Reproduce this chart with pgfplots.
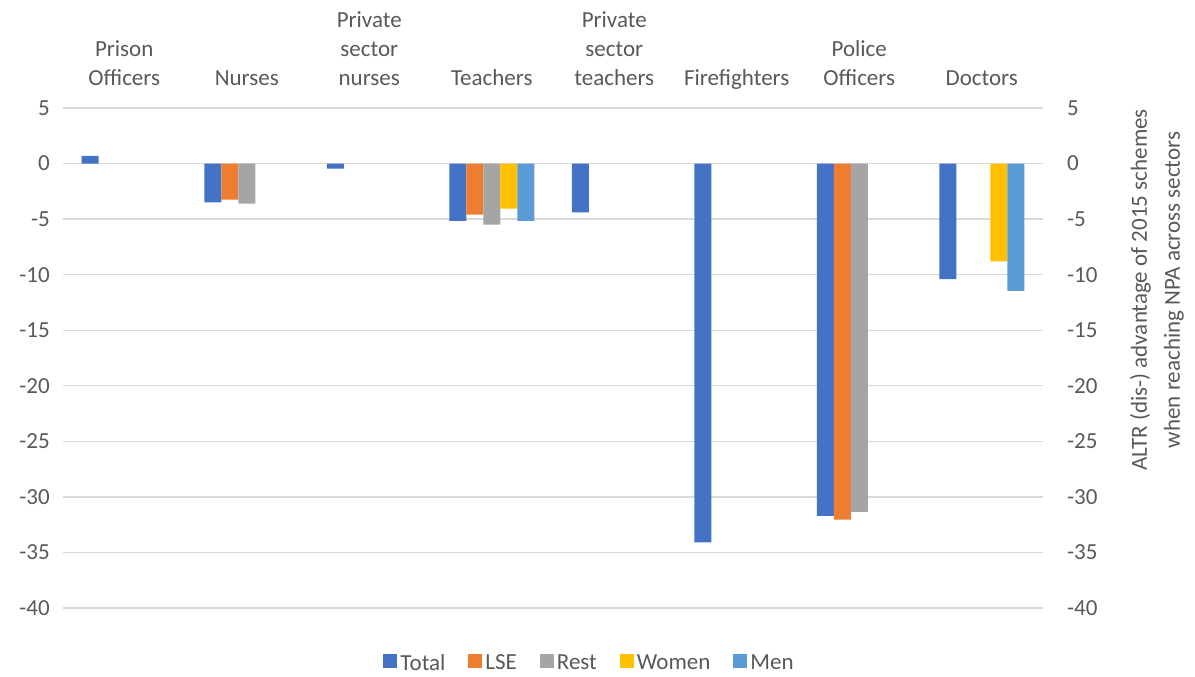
\documentclass[border=0pt]{standalone}
\usepackage{pgfplots}
\pgfplotsset{compat=1.18}
\usepackage{fontspec}
\setmainfont{Carlito}
\definecolor{cTotal}{HTML}{4472C4}
\definecolor{cLSE}{HTML}{ED7D31}
\definecolor{cRest}{HTML}{A5A5A5}
\definecolor{cWomen}{HTML}{FFC000}
\definecolor{cMen}{HTML}{5B9BD5}
\definecolor{txt}{HTML}{595959}
\definecolor{grd}{HTML}{D9D9D9}
\newcommand\lbl{\fontsize{23}{29}\selectfont}
\newcommand\albl{\fontsize{23}{33}\selectfont}
\begin{document}
\begin{tikzpicture}
\useasboundingbox (0,0) rectangle (1195pt,677pt);
\begin{axis}[
  at={(63pt,69pt)}, anchor=south west,
  scale only axis, width=980pt, height=500pt,
  xmin=-0.5, xmax=7.5, ymin=-40, ymax=5,
  ybar=0pt, bar width=17pt,
  axis line style={draw=none},
  major tick length=0pt,
  ymajorgrids, grid style={grd, line width=1.3pt},
  ytick={-40,-35,-30,-25,-20,-15,-10,-5,0,5},
  yticklabels={-40,-35,-30,-25,-20,-15,-10,-5,0,5},
  yticklabel style={font=\lbl, text=txt, inner sep=0pt, anchor=east, xshift=-13pt},
  xtick={0,1,2,3,4,5,6,7},
  xticklabel pos=right,
  xticklabels={{Prison\\Officers\vphantom{g}},{Nurses\vphantom{g}},{Private\\sector\\nurses\vphantom{g}},{Teachers\vphantom{g}},{Private\\sector\\teachers\vphantom{g}},{Firefighters},{Police\\Officers\vphantom{g}},{Doctors\vphantom{g}}},
  xticklabel style={font=\lbl, text=txt, align=center, inner sep=0pt, anchor=south, yshift=18pt},
  legend style={at={(0.5378,-0.11)}, anchor=center, draw=none, fill=none,
    legend columns=-1, font=\lbl, text=txt, inner sep=0pt,
    nodes={inner sep=3pt},
    /tikz/every even column/.append style={column sep=20pt}},
  legend image code/.code={\fill[#1] (0pt,-5pt) rectangle (14pt,9pt);},
]
\addplot[fill=cTotal, draw=none] coordinates {(0,0.7) (1,-3.5) (2,-0.45) (3,-5.15) (4,-4.4) (5,-34.1) (6,-31.7) (7,-10.4)};
\addplot[fill=cLSE, draw=none] coordinates {(1,-3.25) (3,-4.6) (6,-32.05)};
\addplot[fill=cRest, draw=none] coordinates {(1,-3.6) (3,-5.5) (6,-31.35)};
\addplot[fill=cWomen, draw=none] coordinates {(3,-4.05) (7,-8.8)};
\addplot[fill=cMen, draw=none] coordinates {(3,-5.15) (7,-11.45)};
\legend{Total,LSE,Rest,Women,Men}
\end{axis}
\begin{axis}[
  at={(63pt,69pt)}, anchor=south west,
  scale only axis, width=980pt, height=500pt,
  xmin=-0.5, xmax=7.5, ymin=-40, ymax=5,
  axis line style={draw=none},
  major tick length=0pt,
  xtick=\empty,
  ytick={-40,-35,-30,-25,-20,-15,-10,-5,0,5},
  yticklabels={-40,-35,-30,-25,-20,-15,-10,-5,0,5},
  yticklabel pos=right,
  yticklabel style={font=\lbl, text=txt, inner sep=0pt, anchor=west, xshift=24pt},
]
\end{axis}
\node[rotate=90, align=center, font=\albl, text=txt, inner sep=0pt] at (1157pt,387pt)
  {ALTR (dis-) advantage of 2015 schemes\\when reaching NPA across sectors};
\end{tikzpicture}
\end{document}
